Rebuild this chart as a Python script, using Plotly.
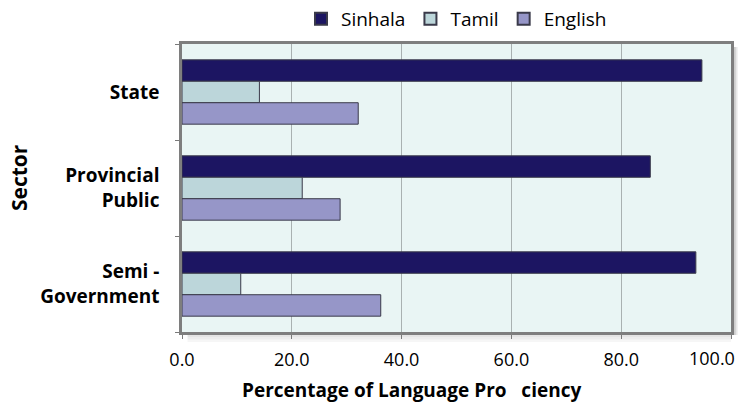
import plotly.graph_objects as go

sectors = ["State", "Provincial<br>Public", "Semi -<br>Government"]
sinhala = [94.7, 85.3, 93.6]
tamil = [14.1, 21.9, 10.7]
english = [32.1, 28.8, 36.2]
x_ticks = [0, 20, 40, 60, 80, 100]
x_tick_labels = ["0.0", "20.0", "40.0", "60.0", "80.0", "100.0"]

series = [
    ("Sinhala", sinhala, "#1C1562"),
    ("Tamil", tamil, "#BCD6DA"),
    ("English", english, "#9696C8"),
]

font = "Open Sans"
fig = go.Figure()
for name, vals, color in series:
    fig.add_trace(go.Bar(
        y=sectors, x=vals, name=name, orientation="h",
        marker=dict(color=color, line=dict(color="#3A3A4A", width=1)),
    ))

fig.update_layout(
    width=739, height=405,
    margin=dict(l=182, r=8, t=44, b=73, autoexpand=False),
    paper_bgcolor="white",
    plot_bgcolor="#E9F5F4",
    barmode="group",
    bargap=0.33,
    bargroupgap=0,
    font=dict(family=font, size=18, color="black"),
    legend=dict(
        orientation="h", x=0.5, xanchor="center", y=1.087, yanchor="middle",
        font=dict(size=19), traceorder="normal",
        itemwidth=30, itemsizing="constant",
    ),
    xaxis=dict(
        range=[0, 100], tickvals=x_ticks,
        ticktext=x_tick_labels[:-1] + [""],
        automargin=False,
        showgrid=True, gridcolor="#A9B1B1", gridwidth=1,
        showline=True, linecolor="#7E7E7E", linewidth=2.5, mirror=True,
        ticks="outside", ticklen=4, tickcolor="#7A7A7A",
        ticklabelstandoff=6,
        tickfont=dict(size=18),
        zeroline=False,
    ),
    yaxis=dict(
        autorange="reversed",
        automargin=False,
        showline=True, linecolor="#7E7E7E", linewidth=2.5, mirror=True,
        ticks="outside", ticklen=4, tickcolor="#7A7A7A",
        tickson="boundaries",
        ticklabelstandoff=16,
        tickfont=dict(size=19, family=font),
    ),
)

# bold category labels
fig.update_yaxes(tickmode="array", tickvals=sectors,
                 ticktext=["<b>" + s + "</b>" for s in sectors])

# last tick label kept inside the figure
fig.add_annotation(x=x_ticks[-1], y=0, xref="x", yref="paper",
                   text=x_tick_labels[-1], showarrow=False,
                   xanchor="right", yanchor="top", xshift=6, yshift=-12,
                   font=dict(size=18, family=font, color="black"))

# axis titles
fig.add_annotation(x=-0.298, y=0.536, xref="paper", yref="paper",
                   text="<b>Sector</b>", textangle=-90, showarrow=False,
                   xanchor="center", yanchor="middle",
                   font=dict(size=21, family=font, color="black"))
fig.add_annotation(x=0.418, y=-0.201, xref="paper", yref="paper",
                   text="<b>Percentage of Language Pro   ciency</b>", showarrow=False,
                   xanchor="center", yanchor="middle",
                   font=dict(size=19, family=font, color="black"))

# soft shadows along right and bottom edges of the plot
for i in range(4):
    fig.add_shape(type="rect", xref="paper", yref="paper",
                  x0=1.0, x1=1.003 + 0.003 * i, y0=-0.01, y1=0.99,
                  line=dict(width=0), fillcolor="rgba(0,0,0,0.09)", layer="below")
    fig.add_shape(type="rect", xref="paper", yref="paper",
                  x0=0.01, x1=1.0, y0=-0.008 - 0.009 * i, y1=0.0,
                  line=dict(width=0), fillcolor="rgba(0,0,0,0.035)", layer="below")

fig.write_html("out.html",
               config={"displayModeBar": False},
               post_script="document.body.style.margin='0';document.body.style.overflow='hidden';")
